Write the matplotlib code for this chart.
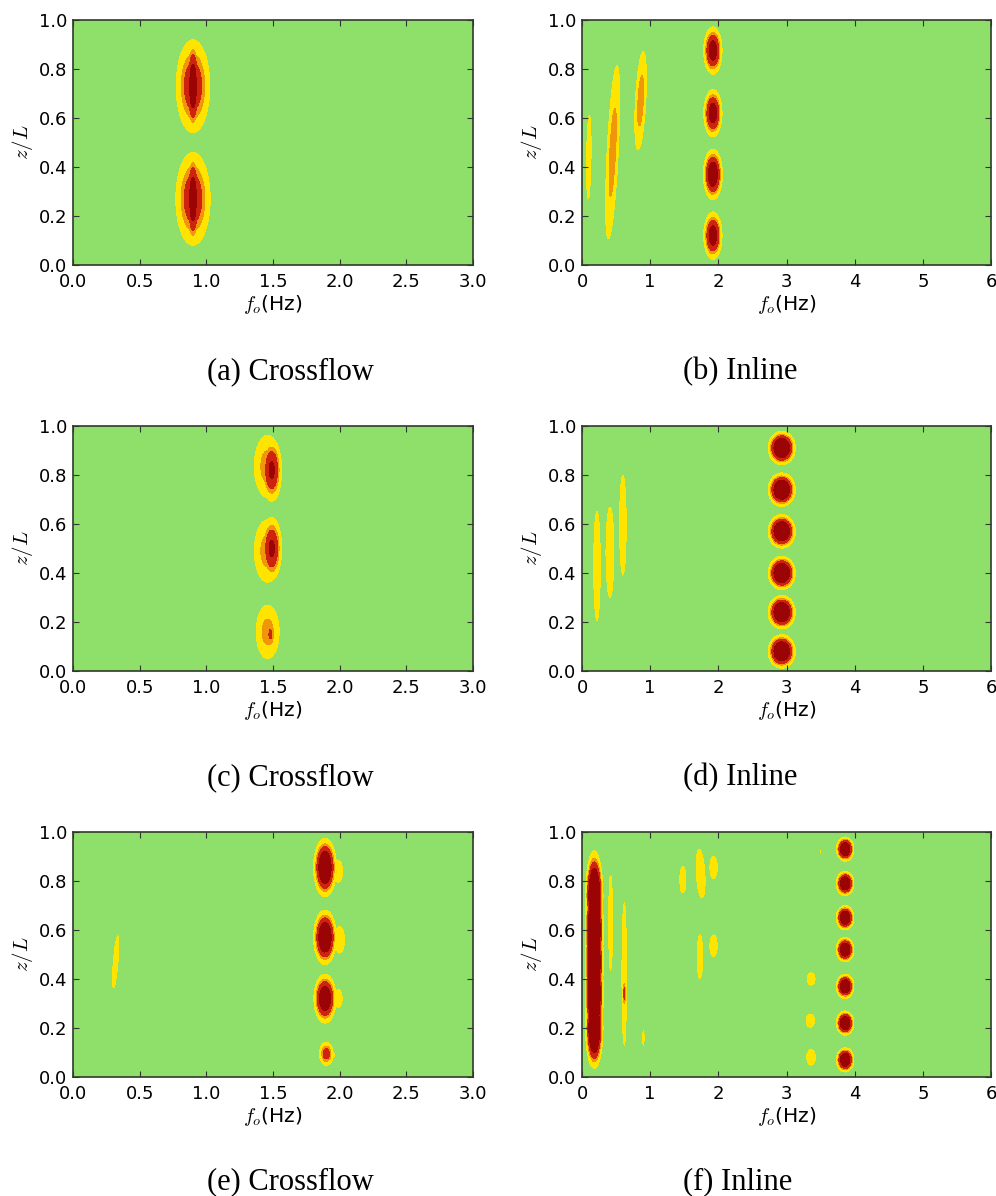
import numpy as np
import matplotlib
matplotlib.use("Agg")
import matplotlib.pyplot as plt
from matplotlib.colors import ListedColormap, BoundaryNorm

plt.rcParams["font.family"] = "DejaVu Sans"
plt.rcParams["mathtext.fontset"] = "cm"
plt.rcParams["xtick.direction"] = "in"
plt.rcParams["ytick.direction"] = "in"
plt.rcParams["xtick.top"] = True
plt.rcParams["ytick.right"] = True
plt.rcParams["xtick.major.size"] = 4
plt.rcParams["ytick.major.size"] = 4
plt.rcParams["xtick.major.pad"] = 6
plt.rcParams["ytick.major.pad"] = 4

# spectral peaks: (f centre, z/L centre, sigma f, sigma z/L, amplitude, tilt df/dz)
peaks_a = [
    (0.90, 0.73, 0.090, 0.135, 0.80, 0.0),
    (0.90, 0.73, 0.032, 0.115, 1.15, 0.0),
    (0.90, 0.27, 0.092, 0.135, 0.80, 0.0),
    (0.90, 0.27, 0.032, 0.115, 1.15, 0.0),
]
peaks_b = [
    (1.92, 0.875, 0.085, 0.061, 1.05, 0.0),
    (1.92, 0.620, 0.085, 0.061, 1.05, 0.0),
    (1.92, 0.370, 0.085, 0.063, 1.15, 0.0),
    (1.92, 0.120, 0.085, 0.061, 1.05, 0.0),
    (0.10, 0.440, 0.036, 0.190, 0.45, 0.05),
    (0.45, 0.460, 0.070, 0.300, 0.60, 0.18),
    (0.86, 0.670, 0.065, 0.170, 0.60, 0.19),
]
peaks_c = [
    (1.46, 0.835, 0.085, 0.108, 0.60, 0.0),
    (1.49, 0.820, 0.050, 0.085, 0.92, 0.0),
    (1.46, 0.490, 0.085, 0.108, 0.60, 0.0),
    (1.49, 0.500, 0.050, 0.085, 0.92, 0.0),
    (1.46, 0.160, 0.075, 0.095, 0.58, 0.0),
    (1.48, 0.150, 0.030, 0.055, 0.66, 0.0),
]
peaks_d = [
    (2.93, 0.91, 0.114, 0.039, 1.4, 0.0),
    (2.93, 0.74, 0.114, 0.039, 1.4, 0.0),
    (2.93, 0.57, 0.114, 0.039, 1.4, 0.0),
    (2.93, 0.40, 0.114, 0.039, 1.4, 0.0),
    (2.93, 0.24, 0.114, 0.039, 1.4, 0.0),
    (2.93, 0.08, 0.114, 0.039, 1.4, 0.0),
    (0.22, 0.430, 0.050, 0.230, 0.48, 0.0),
    (0.41, 0.485, 0.060, 0.190, 0.48, 0.0),
    (0.60, 0.595, 0.050, 0.210, 0.48, 0.0),
]
peaks_e = [
    (1.89, 0.855, 0.050, 0.070, 1.30, 0.0),
    (1.89, 0.570, 0.050, 0.065, 1.30, 0.0),
    (1.89, 0.320, 0.050, 0.060, 1.20, 0.0),
    (1.90, 0.095, 0.038, 0.035, 0.75, 0.0),
    (1.99, 0.840, 0.035, 0.050, 0.45, 0.0),
    (2.00, 0.560, 0.040, 0.060, 0.45, 0.0),
    (1.99, 0.320, 0.035, 0.045, 0.42, 0.0),
    (1.95, 0.090, 0.020, 0.020, 0.35, 0.0),
    (0.32, 0.470, 0.018, 0.110, 0.48, 0.15),
]
peaks_f = [
    (0.18, 0.20, 0.070, 0.090, 1.6, 0.0),
    (0.18, 0.34, 0.070, 0.120, 1.8, 0.0),
    (0.18, 0.47, 0.070, 0.120, 1.8, 0.0),
    (0.18, 0.60, 0.070, 0.120, 1.8, 0.0),
    (0.18, 0.74, 0.070, 0.100, 1.6, 0.0),
    (0.42, 0.63, 0.030, 0.200, 0.48, 0.0),
    (0.62, 0.42, 0.035, 0.300, 0.48, 0.0),
    (0.62, 0.34, 0.018, 0.050, 0.70, 0.0),
    (0.90, 0.16, 0.015, 0.040, 0.40, 0.0),
    (1.48, 0.805, 0.050, 0.060, 0.45, 0.0),
    (1.74, 0.830, 0.070, 0.110, 0.45, -0.2),
    (1.93, 0.855, 0.060, 0.050, 0.45, 0.0),
    (1.73, 0.490, 0.045, 0.100, 0.45, 0.0),
    (1.93, 0.535, 0.060, 0.050, 0.45, 0.0),
    (3.36, 0.40, 0.065, 0.028, 0.45, 0.0),
    (3.35, 0.23, 0.070, 0.030, 0.45, 0.0),
    (3.36, 0.08, 0.070, 0.035, 0.45, 0.0),
    (3.50, 0.92, 0.015, 0.020, 0.32, 0.0),
    (3.86, 0.93, 0.076, 0.029, 1.3, 0.0),
    (3.86, 0.79, 0.076, 0.029, 1.3, 0.0),
    (3.86, 0.65, 0.076, 0.029, 1.3, 0.0),
    (3.86, 0.52, 0.076, 0.029, 1.3, 0.0),
    (3.86, 0.37, 0.076, 0.029, 1.3, 0.0),
    (3.86, 0.22, 0.076, 0.029, 1.3, 0.0),
    (3.86, 0.07, 0.076, 0.029, 1.3, 0.0),
]

captions = ["(a) Crossflow", "(b) Inline", "(c) Crossflow",
            "(d) Inline", "(e) Crossflow", "(f) Inline"]
f_max = [3.0, 6.0, 3.0, 6.0, 3.0, 6.0]
all_peaks = [peaks_a, peaks_b, peaks_c, peaks_d, peaks_e, peaks_f]

levels = [-1.0, 0.30, 0.50, 0.62, 0.85, 100.0]
cmap = ListedColormap(["#8fe06a", "#ffe400", "#f0960a", "#cd230f", "#9a0404"])
norm = BoundaryNorm(levels, cmap.N)


def spectrum(peaks, fmax):
    f = np.linspace(0, fmax, 600)
    z = np.linspace(0, 1, 400)
    F, Z = np.meshgrid(f, z)
    S = np.zeros_like(F)
    for f0, z0, sf, sz, amp, tilt in peaks:
        df = F - f0 - tilt * (Z - z0)
        S = np.maximum(S, amp * np.exp(-0.5 * ((df / sf) ** 2 + ((Z - z0) / sz) ** 2)))
    return F, Z, S


W, H = 996, 1196
fig = plt.figure(figsize=(W / 100, H / 100), dpi=100)

lefts = [73, 582]
widths = [400, 409]
tops = [20, 426, 832]
height = 245
cap_x = [207, 683]
cap_y = [372, 778, 1182]

for i in range(6):
    r, c = divmod(i, 2)
    ax = fig.add_axes([lefts[c] / W, 1 - (tops[r] + height) / H,
                       widths[c] / W, height / H])
    F, Z, S = spectrum(all_peaks[i], f_max[i])
    ax.contourf(F, Z, S, levels=levels, cmap=cmap, norm=norm)
    ax.set_xlim(0, f_max[i])
    ax.set_ylim(0, 1)
    if f_max[i] == 3.0:
        ax.set_xticks(np.arange(0, 3.01, 0.5))
        ax.set_xticklabels(["%.1f" % v for v in np.arange(0, 3.01, 0.5)])
    else:
        ax.set_xticks(np.arange(0, 7))
    ax.set_yticks(np.arange(0, 1.01, 0.2))
    ax.set_yticklabels(["%.1f" % v for v in np.arange(0, 1.01, 0.2)])
    ax.tick_params(labelsize=13, color="#333333")
    for s in ax.spines.values():
        s.set_color("#2f3a2a")
        s.set_linewidth(1.2)
    ax.set_xlabel("$f_o$(Hz)", fontsize=14.5, labelpad=1)
    ax.set_ylabel("$z/L$", fontsize=15, labelpad=3)
    fig.text(cap_x[c] / W, 1 - cap_y[r] / H, captions[i],
             family="Liberation Serif", fontsize=22, ha="left", va="center")

fig.savefig("out.png", dpi=100)
